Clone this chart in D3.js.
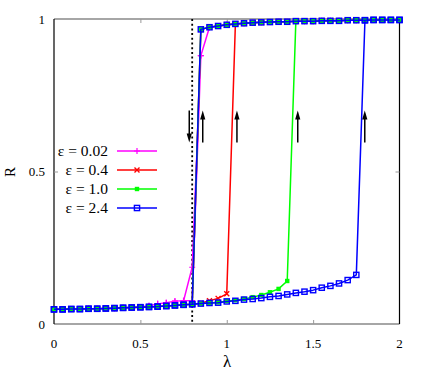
<!DOCTYPE html>
<html>
<head>
<meta charset="utf-8">
<script src="https://cdn.jsdelivr.net/npm/d3@7"></script>
<style>
  body { margin: 0; background: #fff; }
</style>
</head>
<body>
<div id="chart"></div>
<script>
var d3 = window.d3;

// coupling strength sweep
var lambda = [0,0.05,0.1,0.15,0.2,0.25,0.3,0.35,0.4,0.45,0.5,0.55,0.6,0.65,0.7,0.75,0.8,0.85,0.9,0.95,
              1,1.05,1.1,1.15,1.2,1.25,1.3,1.35,1.4,1.45,1.5,1.55,1.6,1.65,1.7,1.75,1.8,1.85,1.9,1.95,2];

// forward (increasing lambda) and backward (decreasing lambda) branches
var magFwd = [0.048,0.048,0.049,0.049,0.050,0.050,0.051,0.052,0.053,0.054,0.056,0.060,0.066,0.070,0.075,0.076,0.186,
              0.880,0.973,0.977,0.981,0.984,0.986,0.988,0.989,0.990,0.991,0.991,0.993,0.993,0.993,0.994,0.994,0.994,
              0.996,0.996,0.996,0.997,0.997,0.997,0.997];
var magBwd = [0.048,0.048,0.049,0.049,0.050,0.050,0.051,0.052,0.053,0.054,0.056,0.060,0.066,0.070,0.075,0.076,0.077,
              0.880,0.973,0.977,0.981,0.984,0.986,0.988,0.989,0.990,0.991,0.991,0.993,0.993,0.993,0.994,0.994,0.994,
              0.996,0.996,0.996,0.997,0.997,0.997,0.997];
var redFwd = [0.048,0.048,0.049,0.049,0.050,0.050,0.051,0.052,0.053,0.054,0.055,0.056,0.057,0.059,0.061,0.063,0.065,
              0.068,0.076,0.084,0.099,0.984,0.986,0.988,0.989,0.990,0.991,0.991,0.993,0.993,0.993,0.994,0.994,0.994,
              0.996,0.996,0.996,0.997,0.997,0.997,0.997];
var redBwd = [0.048,0.048,0.049,0.049,0.050,0.050,0.051,0.052,0.053,0.054,0.055,0.056,0.057,0.059,0.061,0.063,0.065,
              0.966,0.973,0.977,0.981,0.984,0.986,0.988,0.989,0.990,0.991,0.991,0.993,0.993,0.993,0.994,0.994,0.994,
              0.996,0.996,0.996,0.997,0.997,0.997,0.997];
var greenFwd = [0.048,0.048,0.049,0.049,0.050,0.050,0.051,0.052,0.053,0.054,0.055,0.056,0.057,0.059,0.061,0.063,0.065,
                0.067,0.069,0.071,0.075,0.078,0.082,0.088,0.095,0.104,0.115,0.141,0.993,0.993,0.993,0.994,0.994,0.994,
                0.996,0.996,0.996,0.997,0.997,0.997,0.997];
var greenBwd = [0.048,0.048,0.049,0.049,0.050,0.050,0.051,0.052,0.053,0.054,0.055,0.056,0.057,0.059,0.061,0.063,0.065,
                0.966,0.973,0.977,0.981,0.984,0.986,0.988,0.989,0.990,0.991,0.991,0.993,0.993,0.993,0.994,0.994,0.994,
                0.996,0.996,0.996,0.997,0.997,0.997,0.997];
var blueFwd = [0.048,0.048,0.049,0.049,0.050,0.050,0.051,0.052,0.053,0.054,0.055,0.056,0.057,0.059,0.061,0.063,0.065,
               0.067,0.069,0.070,0.074,0.076,0.080,0.082,0.085,0.089,0.092,0.097,0.102,0.106,0.111,0.119,0.125,0.133,
               0.144,0.161,0.996,0.997,0.997,0.997,0.997];
var blueBwd = [0.048,0.048,0.049,0.049,0.050,0.050,0.051,0.052,0.053,0.054,0.055,0.056,0.057,0.059,0.061,0.063,0.065,
               0.966,0.973,0.977,0.981,0.984,0.986,0.988,0.989,0.990,0.991,0.991,0.993,0.993,0.993,0.994,0.994,0.994,
               0.996,0.996,0.996,0.997,0.997,0.997,0.997];

var seriesNames = ["ε = 0.02", "ε = 0.4", "ε = 1.0", "ε = 2.4"];
var xTicks = [0, 0.5, 1, 1.5, 2];
var xTickLabels = ["0", "0.5", "1", "1.5", "2"];
var yTicks = [0, 0.5, 1];
var yTickLabels = ["0", "0.5", "1"];
var criticalLambda = 0.8;
var downArrowAt = [0.783];
var upArrowsAt = [0.861, 1.059, 1.411, 1.799];
var arrowRange = [0.595, 0.70];

var colours = ["#ff00ff", "#ff0000", "#00ff00", "#0000ff"];
var markers = ["plus", "cross", "fillsq", "opensq"];
var series = [
  {fwd: magFwd, bwd: magBwd},
  {fwd: redFwd, bwd: redBwd},
  {fwd: greenFwd, bwd: greenBwd},
  {fwd: blueFwd, bwd: blueBwd}
];

var width = 436, height = 382;
var serif = "Liberation Serif, DejaVu Serif, serif";
var x = d3.scaleLinear().domain([0, 2]).range([54, 399.5]);
var y = d3.scaleLinear().domain([0, 1]).range([324, 19]);

var svg = d3.select("#chart").append("svg")
    .attr("width", width)
    .attr("height", height)
    .style("font-family", serif);

// frame: grey top/bottom, black sides
svg.append("line").attr("x1", x(0)).attr("x2", x(2)).attr("y1", y(1)).attr("y2", y(1))
    .attr("stroke", "#888").attr("stroke-width", 1.5);
svg.append("line").attr("x1", x(0)).attr("x2", x(2)).attr("y1", y(0)).attr("y2", y(0))
    .attr("stroke", "#888").attr("stroke-width", 1.5);
svg.append("line").attr("x1", x(0)).attr("x2", x(0)).attr("y1", y(0)).attr("y2", y(1))
    .attr("stroke", "#000").attr("stroke-width", 1.2);
svg.append("line").attr("x1", x(2)).attr("x2", x(2)).attr("y1", y(0)).attr("y2", y(1))
    .attr("stroke", "#000").attr("stroke-width", 1.2);

// inward ticks via d3 axes
var xAxisB = svg.append("g").attr("transform", "translate(0," + y(0) + ")")
    .call(d3.axisTop(x).tickValues(xTicks.slice(1, -1)).tickSize(4).tickFormat(""));
var xAxisT = svg.append("g").attr("transform", "translate(0," + y(1) + ")")
    .call(d3.axisBottom(x).tickValues(xTicks.slice(1, -1)).tickSize(4).tickFormat(""));
var yAxisL = svg.append("g").attr("transform", "translate(" + x(0) + ",0)")
    .call(d3.axisRight(y).tickValues([0.5]).tickSize(4).tickFormat(""));
var yAxisR = svg.append("g").attr("transform", "translate(" + x(2) + ",0)")
    .call(d3.axisLeft(y).tickValues([0.5]).tickSize(4).tickFormat(""));
[xAxisB, xAxisT, yAxisL, yAxisR].forEach(function (g) {
  g.select(".domain").remove();
  g.selectAll(".tick line").attr("stroke", "#999").attr("stroke-width", 1);
});

// tick labels
svg.selectAll(".xlab").data(xTicks).enter().append("text")
    .attr("x", function (d) { return x(d); })
    .attr("y", 348)
    .attr("text-anchor", "middle")
    .style("font-family", serif)
    .attr("font-size", 13)
    .text(function (d, i) { return xTickLabels[i]; });
svg.selectAll(".ylab").data(yTicks).enter().append("text")
    .attr("x", 45)
    .attr("y", function (d) { return y(d) + 4.5; })
    .attr("text-anchor", "end")
    .style("font-family", serif)
    .attr("font-size", 13)
    .text(function (d, i) { return yTickLabels[i]; });

svg.append("text").attr("x", 227).attr("y", 367).attr("text-anchor", "middle")
    .style("font-family", serif).attr("font-size", 17).text("λ");
svg.append("text").attr("transform", "translate(15,172) rotate(-90)")
    .attr("text-anchor", "middle").style("font-family", serif).attr("font-size", 15).text("R");

// critical line
svg.append("line")
    .attr("x1", x(criticalLambda)).attr("x2", x(criticalLambda))
    .attr("y1", y(1)).attr("y2", y(0))
    .attr("stroke", "#000").attr("stroke-width", 1.8)
    .attr("stroke-dasharray", "2,2.7");

function drawMarker(g, kind, colour, cx, cy) {
  if (kind === "plus") {
    g.append("path").attr("d", "M" + (cx - 3) + "," + cy + "h6M" + cx + "," + (cy - 3) + "v6")
        .attr("stroke", colour).attr("stroke-width", 1.2).attr("fill", "none");
  } else if (kind === "cross") {
    g.append("path").attr("d", "M" + (cx - 2.5) + "," + (cy - 2.5) + "l5,5M" + (cx - 2.5) + "," + (cy + 2.5) + "l5,-5")
        .attr("stroke", colour).attr("stroke-width", 1.4).attr("fill", "none");
  } else if (kind === "fillsq") {
    g.append("rect").attr("x", cx - 2.2).attr("y", cy - 2.2).attr("width", 4.4).attr("height", 4.4)
        .attr("fill", colour);
  } else {
    g.append("rect").attr("x", cx - 2.6).attr("y", cy - 2.6).attr("width", 5.2).attr("height", 5.2)
        .attr("fill", "none").attr("stroke", colour).attr("stroke-width", 1.4);
  }
}

var line = d3.line()
    .x(function (d) { return x(d[0]); })
    .y(function (d) { return y(d[1]); });

series.forEach(function (s, k) {
  var pts = [];
  lambda.forEach(function (l, i) { pts.push([l, s.fwd[i]]); });
  var back = [];
  lambda.forEach(function (l, i) { back.push([l, s.bwd[i]]); });
  pts = pts.concat(back.reverse());
  var g = svg.append("g");
  g.append("path").datum(pts)
      .attr("d", line)
      .attr("fill", "none")
      .attr("stroke", colours[k])
      .attr("stroke-width", 1.5)
      .attr("stroke-linejoin", "round");
  pts.forEach(function (p) { drawMarker(g, markers[k], colours[k], x(p[0]), y(p[1])); });
});

// arrows
function arrow(lx, fromR, toR) {
  var x0 = x(lx), y0 = y(fromR), y1 = y(toR);
  var dir = y1 > y0 ? 1 : -1;
  svg.append("line").attr("x1", x0).attr("x2", x0).attr("y1", y0).attr("y2", y1 - dir * 6)
      .attr("stroke", "#000").attr("stroke-width", 1.5);
  svg.append("path")
      .attr("d", "M" + x0 + "," + y1 + "L" + (x0 - 2.6) + "," + (y1 - dir * 9) + "L" + (x0 + 2.6) + "," + (y1 - dir * 9) + "Z")
      .attr("fill", "#000");
}
downArrowAt.forEach(function (l) { arrow(l, arrowRange[1], arrowRange[0]); });
upArrowsAt.forEach(function (l) { arrow(l, arrowRange[0], arrowRange[1]); });

// legend
var legY = [151, 170, 189, 208];
seriesNames.forEach(function (name, k) {
  var g = svg.append("g");
  g.append("text").attr("x", 108).attr("y", legY[k] + 5).attr("text-anchor", "end")
      .style("font-family", serif).attr("font-size", 15.5).text(name);
  g.append("line").attr("x1", 117).attr("x2", 157).attr("y1", legY[k]).attr("y2", legY[k])
      .attr("stroke", colours[k]).attr("stroke-width", 1.5);
  drawMarker(g, markers[k], colours[k], 137, legY[k]);
});
</script>
</body>
</html>
